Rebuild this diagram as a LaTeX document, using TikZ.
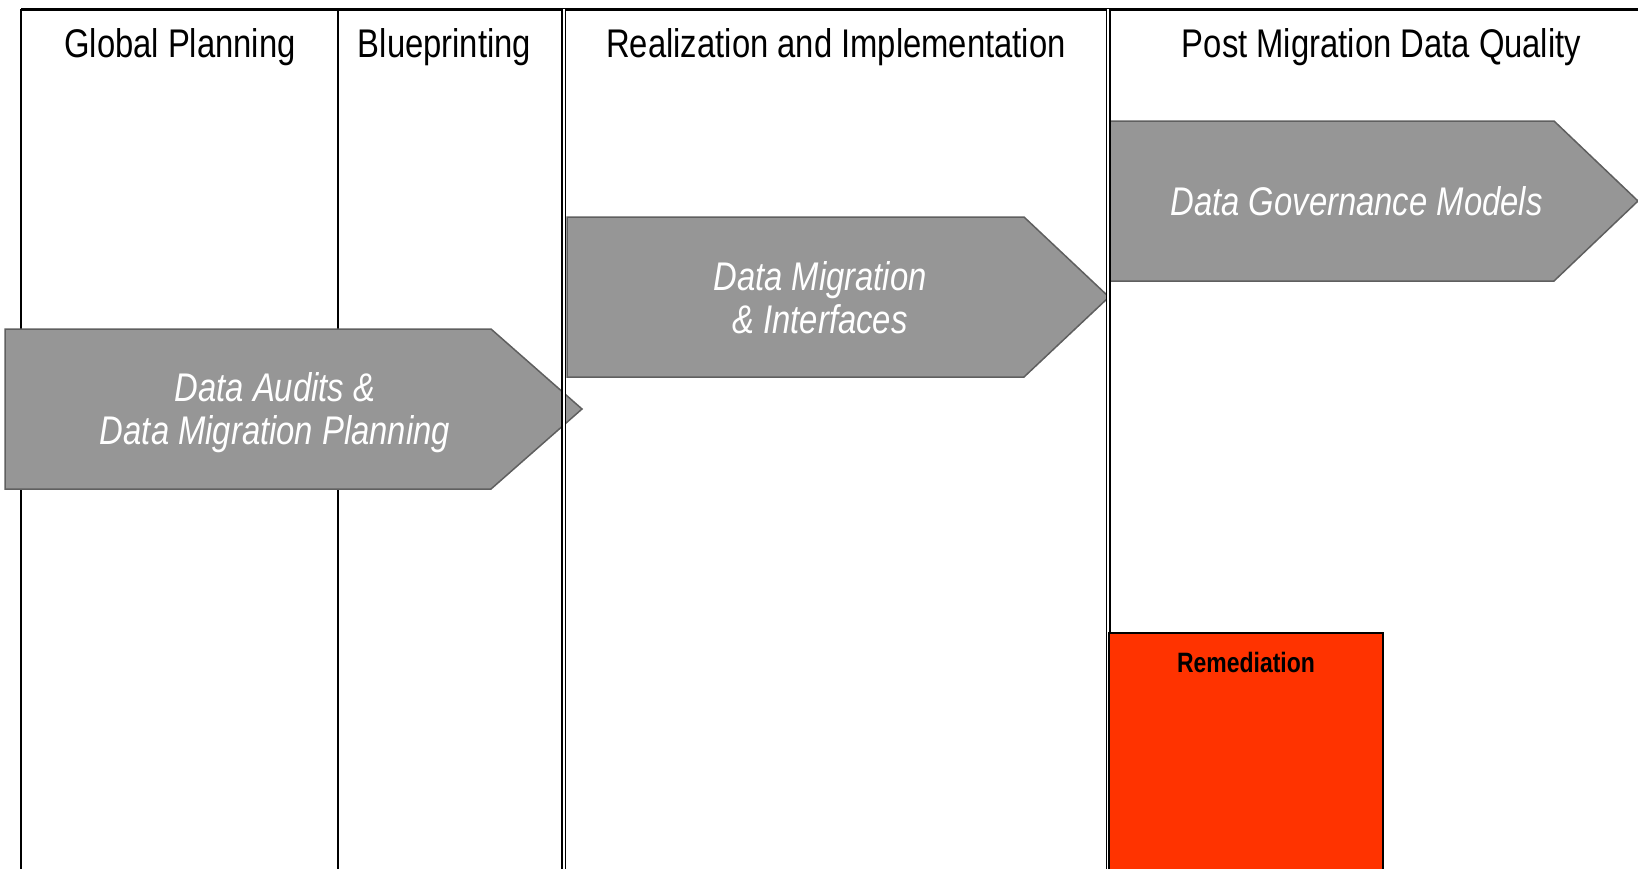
\documentclass[tikz,border=0pt]{standalone}
\usepackage{fontspec}
\setmainfont[FakeStretch=0.82]{Liberation Sans}
\usepackage{xcolor}
\usepackage{tikz}
\usetikzlibrary{calc}
\definecolor{phasegray}{HTML}{969696}
\definecolor{phaseedge}{HTML}{5F5F5F}
\definecolor{remred}{HTML}{FF3300}

\begin{document}
\begin{tikzpicture}[x=0.5pt,y=-0.5pt,
  header/.style={anchor=base,font=\fontsize{20}{24}\selectfont},
  phase/.style={fill=phasegray,draw=phaseedge,line width=0.75pt},
  phasetext/.style={text=white,align=center,font=\itshape\fontsize{20}{21.5}\selectfont},
  divider/.style={line width=0.75pt},
  doubledivider/.style={double,double distance=1pt,line width=0.75pt}]
\useasboundingbox (0,0) rectangle (1638,869);
\coordinate (TL) at (21,9);
\coordinate (TR) at (1638,9);
\coordinate (BL) at (21,869);
\draw[line width=1.5pt] (TL) -- (TR);
\draw[line width=1pt] (TL) -- (BL);
\draw[divider] (338,9) -- (338,869);
\draw[phase] (5,329) -- (491,329) -- (582,409) -- (491,489) -- (5,489) -- cycle;
\draw[phase] (567,217) -- (1024,217) -- (1109,297) -- (1024,377) -- (567,377) -- cycle;
\draw[phase] (1109,121) -- (1554,121) -- (1638,201) -- (1554,281) -- (1109,281) -- cycle;
\draw[doubledivider] (563.5,9) -- (563.5,869);
\draw[doubledivider] (1108,9) -- (1108,869);
\draw[fill=remred,line width=1pt] (1109,869) -- (1109,633) -- (1383,633) -- (1383,869);
\node[header] (hdrglobal) at (180,57) {Global Planning};
\node[header] (hdrblue) at (444.5,57) {Blueprinting};
\node[header] (hdrreal) at (836,57) {Realization and Implementation};
\node[header] (hdrpost) at (1381.5,57) {Post Migration Data Quality};
\node[phasetext] (txtaudit) at (275,413) {Data Audits \&\\Data Migration Planning};
\node[phasetext] (txtmig) at (820,298) {Data Migration\\\& Interfaces};
\node[phasetext] (txtgov) at (1356.5,201) {Data Governance Models};
\node[font=\bfseries\fontsize{14}{17}\selectfont] (txtrem) at (1246,662) {Remediation};
\end{tikzpicture}
\end{document}
